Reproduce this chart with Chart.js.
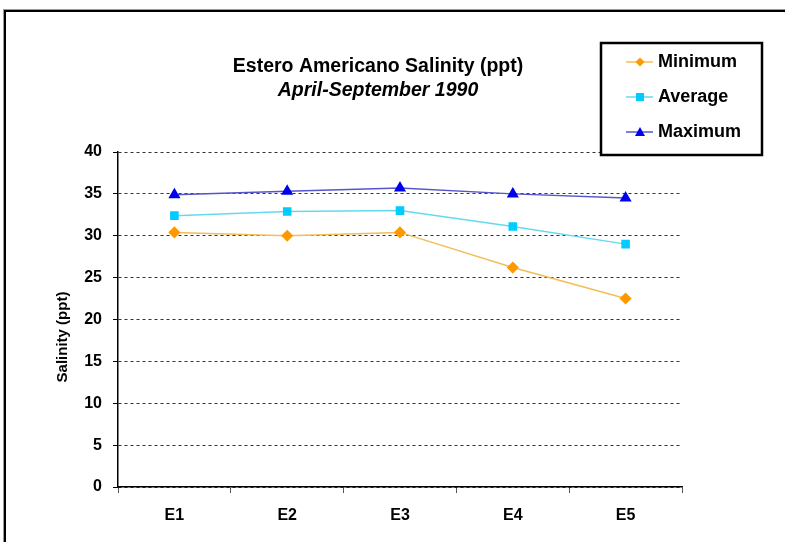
<!DOCTYPE html>
<html>
<head>
<meta charset="utf-8">
<script src="https://cdn.jsdelivr.net/npm/chart.js@4"></script>
<style>
html,body{margin:0;padding:0;background:#fff;}
#wrap{position:relative;width:785px;height:542px;}
</style>
</head>
<body>
<div id="wrap"><canvas id="c" width="785" height="542"></canvas></div>
<script>
const stations = ['E1','E2','E3','E4','E5'];
const minimum = [30.4, 30.0, 30.4, 26.2, 22.5];
const average = [32.4, 32.9, 33.0, 31.1, 29.0];
const maximum = [34.9, 35.3, 35.7, 35.0, 34.5];
const yTicks = [0,5,10,15,20,25,30,35,40];
const titleLine1 = 'Estero Americano Salinity (ppt)';
const titleLine2 = 'April-September 1990';
const yTitle = 'Salinity (ppt)';

const FONT = '"Liberation Sans", Arial, sans-serif';

const decor = {
  id: 'decor',
  beforeDraw(chart) {
    const ctx = chart.ctx;
    ctx.save();
    ctx.fillStyle = '#fff';
    ctx.fillRect(0, 0, chart.width, chart.height);
    ctx.strokeStyle = '#000';
    ctx.lineWidth = 2;
    ctx.strokeRect(5, 11, 800, 560);
    ctx.strokeStyle = '#999';
    ctx.lineWidth = 1;
    ctx.strokeRect(3.5, 9.5, 803, 563);
    ctx.restore();
  },
  afterDraw(chart) {
    const ctx = chart.ctx;
    ctx.save();
    ctx.fillStyle = '#000';
    ctx.textAlign = 'center';
    ctx.textBaseline = 'middle';
    ctx.font = 'bold 19.5px ' + FONT;
    ctx.fillText(titleLine1, 378, 67);
    ctx.font = 'italic bold 19.5px ' + FONT;
    ctx.fillText(titleLine2, 378, 91);

    // y-axis title
    ctx.save();
    ctx.translate(63, 337);
    ctx.rotate(-Math.PI / 2);
    ctx.font = 'bold 15px ' + FONT;
    ctx.fillText(yTitle, 0, 0);
    ctx.restore();

    // legend box
    const bx = 601, by = 43, bw = 161, bh = 112;
    ctx.fillStyle = '#fff';
    ctx.fillRect(bx, by, bw, bh);
    ctx.strokeStyle = '#000';
    ctx.lineWidth = 2.5;
    ctx.strokeRect(bx, by, bw, bh);
    const rows = [62, 97, 132];
    chart.data.datasets.forEach((ds, i) => {
      const y = rows[i];
      ctx.strokeStyle = ds.borderColor;
      ctx.lineWidth = 1.5;
      ctx.beginPath();
      ctx.moveTo(626, y);
      ctx.lineTo(653, y);
      ctx.stroke();
      ctx.fillStyle = ds.pointBackgroundColor;
      ctx.beginPath();
      const r = 4.5;
      if (ds.pointStyle === 'rectRot') {
        ctx.moveTo(640, y - r); ctx.lineTo(640 + r, y); ctx.lineTo(640, y + r); ctx.lineTo(640 - r, y);
      } else if (ds.pointStyle === 'rect') {
        ctx.rect(640 - 4, y - 4, 8, 8);
      } else {
        ctx.moveTo(640, y - 5); ctx.lineTo(645, y + 4); ctx.lineTo(635, y + 4);
      }
      ctx.closePath();
      ctx.fill();
      ctx.fillStyle = '#000';
      ctx.textAlign = 'left';
      ctx.font = 'bold 18px ' + FONT;
      ctx.fillText(ds.label, 658, y);
    });
    ctx.restore();
  }
};

new Chart(document.getElementById('c'), {
  type: 'line',
  data: {
    labels: stations,
    datasets: [
      { label: 'Minimum', data: minimum, borderColor: '#F2BE55', backgroundColor: '#FF9900',
        pointBackgroundColor: '#FF9900', pointBorderColor: '#FF9900', pointStyle: 'rectRot',
        pointRadius: 5, borderWidth: 1.5, tension: 0 },
      { label: 'Average', data: average, borderColor: '#66D9EE', backgroundColor: '#00CCFF',
        pointBackgroundColor: '#00CCFF', pointBorderColor: '#00CCFF', pointStyle: 'rect',
        pointRadius: 5, borderWidth: 1.5, tension: 0 },
      { label: 'Maximum', data: maximum, borderColor: '#5555CC', backgroundColor: '#0000EE',
        pointBackgroundColor: '#0000EE', pointBorderColor: '#0000EE', pointStyle: 'triangle',
        pointRadius: 5.5, borderWidth: 1.5, tension: 0 }
    ]
  },
  options: {
    responsive: false,
    animation: false,
    devicePixelRatio: 1,
    layout: { padding: { left: 0, top: 152, right: 103, bottom: 0 } },
    plugins: { legend: { display: false }, title: { display: false }, tooltip: { enabled: false } },
    scales: {
      x: {
        offset: true,
        grid: { offset: true, drawOnChartArea: false, tickLength: 6, color: '#555', tickColor: '#555' },
        border: { color: '#000', width: 1.5 },
        ticks: { font: { family: FONT, size: 16, weight: 'bold' }, color: '#000', padding: 13, maxRotation: 0 },
        afterFit(s) { s.height = 55; }
      },
      y: {
        min: 0, max: 40,
        afterBuildTicks(s) { s.ticks = yTicks.map(v => ({ value: v })); },
        grid: { color: '#333', lineWidth: 1, tickLength: 5,
                tickBorderDash: [], tickColor: '#000', tickWidth: 1 },
        border: { color: '#000', width: 1.5, dash: [3, 3] },
        ticks: { font: { family: FONT, size: 16, weight: 'bold' }, color: '#000', padding: 11 },
        afterFit(s) { s.width = 118; }
      }
    }
  },
  plugins: [decor]
});
</script>
</body>
</html>
